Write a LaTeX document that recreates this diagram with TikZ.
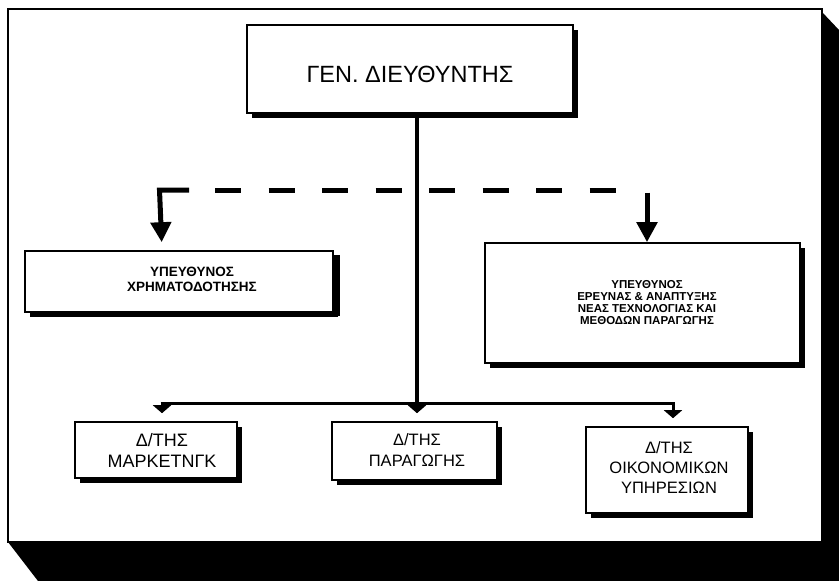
\documentclass[tikz,border=0pt]{standalone}
\usepackage{fontspec}
\setmainfont{Liberation Sans}
\usetikzlibrary{arrows.meta,shadows}

\tikzset{
  unitbox/.style={draw, line width=1.6pt, fill=white, inner sep=0pt,
    drop shadow={shadow xshift=5pt, shadow yshift=-5pt, fill=black, opacity=1}},
  label/.style={inner sep=0pt, align=center},
  smalltxt/.style={label, font=\bfseries\fontsize{11.5}{12}\selectfont},
  midtxt/.style={label, font=\bfseries\fontsize{13.5}{15}\selectfont},
  deptxt/.style={label, font=\fontsize{18}{21}\selectfont},
  link/.style={line width=3pt},
  bigarrow/.style={line width=5pt, -{Triangle[width=20pt,length=20pt]}},
  smallarrow/.style={line width=3pt, -{Triangle[width=18pt,length=8pt]}},
  dashlink/.style={line width=5pt, dash pattern=on 26pt off 27.5pt}
}

\begin{document}
\begin{tikzpicture}[x=1pt,y=-1pt]
\useasboundingbox (0,0) rectangle (839,581);

% page frame and its heavy shadow
\fill[black] (8,542) -- (38,581) -- (839,581) -- (839,30) -- (822,12) -- (822,542) -- cycle;
\draw[line width=2pt, fill=white] (8,9) rectangle (822,542);

% boxes
\node[unitbox, minimum width=326pt, minimum height=88pt] (gm) at (410,69) {};
\node[label, font=\fontsize{23.5}{26}\selectfont] (gmtxt) at (410,74) {ΓΕΝ. ΔΙΕΥΘΥΝΤΗΣ};

\node[unitbox, minimum width=308pt, minimum height=61pt,
      drop shadow={shadow xshift=7pt, shadow yshift=-4pt, fill=black, opacity=1}] (fin) at (179,281.5) {};
\node[midtxt] (fintxt) at (192,279) {ΥΠΕΥΘΥΝΟΣ\\ΧΡΗΜΑΤΟΔΟΤΗΣΗΣ};

\node[unitbox, minimum width=315pt, minimum height=120pt] (rnd) at (642.5,303) {};
\node[smalltxt] (rndtxt) at (647,303) {ΥΠΕΥΘΥΝΟΣ\\ΕΡΕΥΝΑΣ \& ΑΝΑΠΤΥΞΗΣ\\ΝΕΑΣ ΤΕΧΝΟΛΟΓΙΑΣ ΚΑΙ\\ΜΕΘΟΔΩΝ ΠΑΡΑΓΩΓΗΣ};

\node[unitbox, minimum width=162pt, minimum height=56pt] (mkt) at (156,450) {};
\node[deptxt] (mkttxt) at (162,450) {Δ/ΤΗΣ\\ΜΑΡΚΕΤΝΓΚ};

\node[unitbox, minimum width=165pt, minimum height=58pt] (prd) at (414.5,451) {};
\node[deptxt, font=\fontsize{16.5}{21}\selectfont] (prdtxt) at (417,450) {Δ/ΤΗΣ\\ΠΑΡΑΓΩΓΗΣ};

\node[unitbox, minimum width=162pt, minimum height=86pt] (eco) at (667,470) {};
\node[deptxt, font=\fontsize{16.5}{20}\selectfont] (ecotxt) at (669,468) {Δ/ΤΗΣ\\ΟΙΚΟΝΟΜΙΚΩΝ\\ΥΠΗΡΕΣΙΩΝ};

% line of command
\coordinate (spine) at (417,403);
\coordinate (busl) at (162,403);
\coordinate (busr) at (673,403);
\draw[link, line width=3.5pt] (gm.south -| spine) -- (spine);
\draw[link] ([xshift=-1.5pt]busl) -- ([xshift=1.5pt]busr);
\draw[smallarrow, shorten >=8pt] (busl) -- (busl |- mkt.north);
\draw[smallarrow, shorten >=8pt] (spine) -- (spine |- prd.north);
\draw[smallarrow, shorten >=8pt] (busr) -- (busr |- eco.north);

% staff (advisory) links
\coordinate (staffl) at (162,190);
\coordinate (staffr) at (647,190);
\draw[dashlink] (215,190) -- (616,190);
\draw[bigarrow, shorten >=8pt] ([xshift=27pt]staffl) -- ([xshift=-2.5pt]staffl) -- (staffl |- fin.north);
\draw[bigarrow] ([yshift=-2.5pt]staffr) -- (staffr |- rnd.north);
\end{tikzpicture}
\end{document}
